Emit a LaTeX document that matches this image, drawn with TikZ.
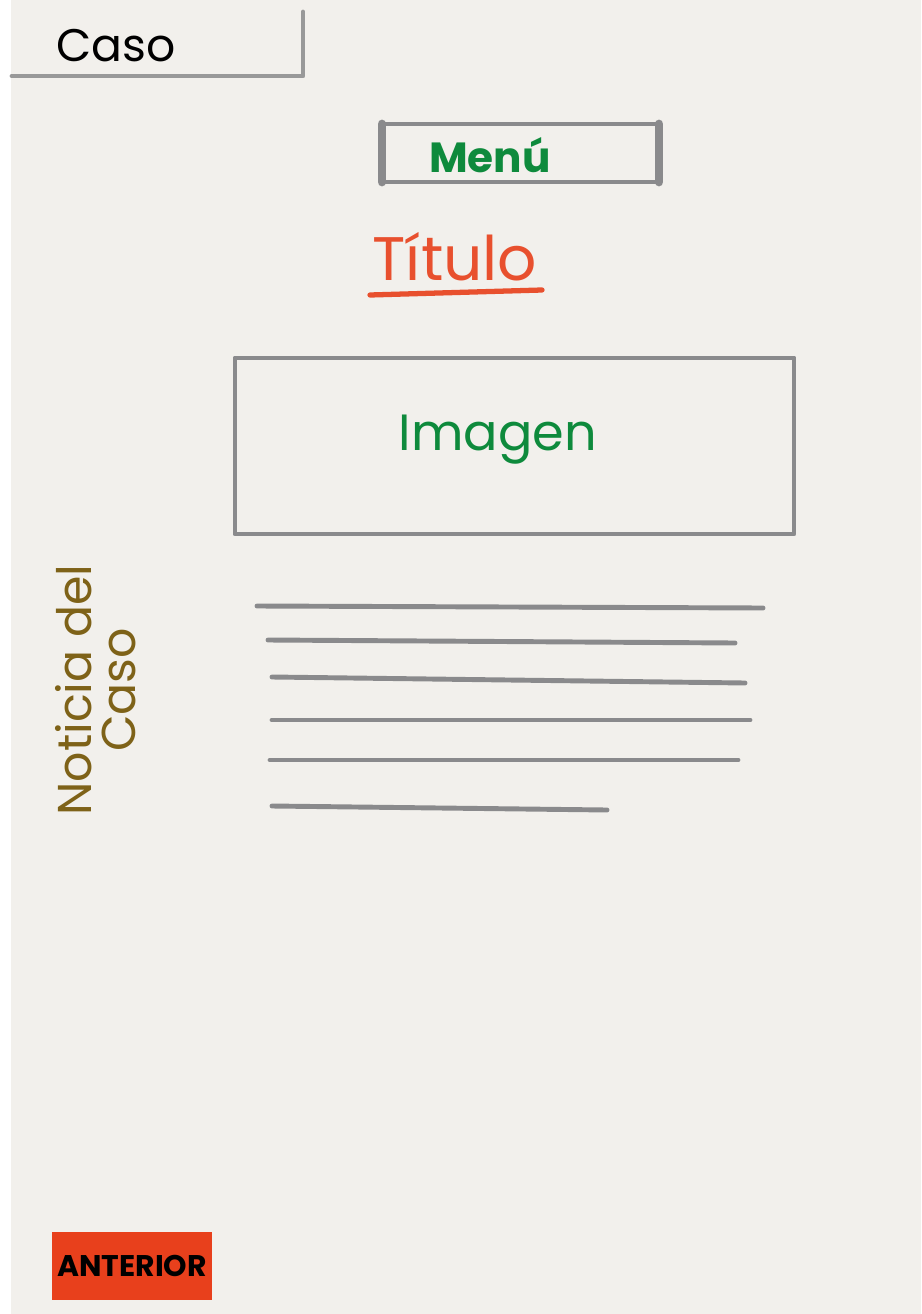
\documentclass[tikz,border=0pt]{standalone}
\usepackage{fontspec}
\setmainfont{Poppins}
\usepackage{xcolor}
\usetikzlibrary{positioning}
\definecolor{WFPaper}{HTML}{F2F0EC}
\definecolor{WFGray}{HTML}{8A8A8C}
\definecolor{WFGreen}{HTML}{0E8A3C}
\definecolor{WFRed}{HTML}{E8502E}
\definecolor{WFButton}{HTML}{E8401C}
\definecolor{WFOlive}{HTML}{7E6218}

\begin{document}
\begin{tikzpicture}[
  x=0.02cm,y=-0.02cm,
  frame/.style={draw=WFGray,line width=2.8pt,line cap=round,line join=round},
  textline/.style={draw=WFGray,line width=2.8pt,line cap=round},
  label/.style={font=\fontsize{#1}{#1}\selectfont,inner sep=0pt},
  label/.default=28
]
\useasboundingbox (0,0) rectangle (921,1314);
\fill[WFPaper] (0,0) rectangle (921,1314);
\fill[white] (0,0) rectangle (11,1314);
% page header
\draw[frame,draw=gray!80] (12,76) -- (303,76) -- (303,12);
\node[label=26] (pagename) at (116,46) {Caso};
% menu
\draw[frame] (382,124) rectangle (659,182);
\draw[frame,line width=5pt] (382,124) -- (382,182);
\draw[frame,line width=5pt] (659,124) -- (659,182);
\node[label=24,text=WFGreen] (menu) at (490,155) {\textbf{Menú}};
% title
\node[label=35,text=WFRed] (title) at (455,257) {Título};
\draw[draw=WFRed,line width=3pt,line cap=round] (370,295) -- (542,290);
% image placeholder
\draw[frame] (235,358) rectangle (794,534);
\node[label=29,text=WFGreen] (image) at (498,440) {Imagen};
% news text
\draw[textline] (257,606) -- (763,608);
\draw[textline] (268,640) -- (735,643);
\draw[textline] (272,677) -- (745,683);
\draw[textline] (272,720) -- (750,720);
\draw[textline] (270,760) -- (738,760);
\draw[textline] (272,806) -- (607,810);
\node[label=27,text=WFOlive,rotate=90,align=center] (news) at (96,690)
  {Noticia del\\[-2pt]Caso};
% back button
\node[fill=WFButton,minimum width=160*0.02cm,minimum height=68*0.02cm,
      label=17,inner sep=0pt] (back) at (132,1266) {\textbf{ANTERIOR}};
\end{tikzpicture}
\end{document}
